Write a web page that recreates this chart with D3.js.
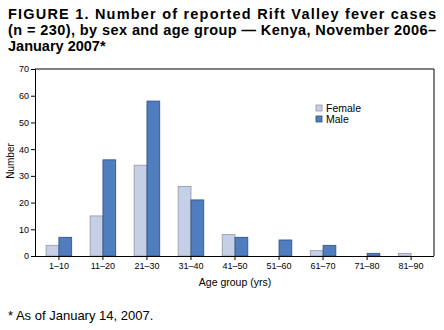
<!DOCTYPE html>
<html><head><meta charset="utf-8">
<script src="https://cdn.jsdelivr.net/npm/d3@7"></script>
<style>body{margin:0;background:#fff}svg{display:block;font-family:"Liberation Sans",Arial,Helvetica,sans-serif}</style>
</head><body>
<svg id="c" width="444" height="330"></svg>
<script>
const categories = ["1–10","11–20","21–30","31–40","41–50","51–60","61–70","71–80","81–90"];
const female = [4,15,34,26,8,0,2,0,1];
const male = [7,36,58,21,7,6,4,1,0];
const yTicks = [0,10,20,30,40,50,60,70];
const seriesNames = ["Female","Male"];
const colors = {Female:"#c5cfe6", Male:"#4f7dbd"};
const strokes = {Female:"#8f96a6", Male:"#2f5080"};

const svg = d3.select("#c");
const m = {l:35, r:434, t:69, b:256};
const x = d3.scaleBand().domain(categories).range([m.l+1, m.r]).paddingInner(0).paddingOuter(0.02);
const y = d3.scaleLinear().domain([0,70]).range([m.b, m.t]);
const bw = 12.8;

// title
const title = ["FIGURE 1. Number of reported Rift Valley fever cases",
  "(n = 230), by sex and age group — Kenya,  November 2006–",
  "January 2007*"];
const tt = svg.append("g").attr("font-weight","bold").attr("font-size",14.5).attr("fill","#000");
title.forEach((t,i)=>{
  const el = tt.append("text").attr("x",8).attr("y",19+i*16).text(t);
  if(i<2) el.attr("textLength",428).attr("lengthAdjust","spacing");
});

// frame top/right
svg.append("path").attr("d",`M${m.l},${m.t}H${m.r}V${m.b}`).attr("fill","none").attr("stroke","#000").attr("stroke-width",1);

// bars
const g = svg.append("g");
categories.forEach((c,i)=>{
  const cx = x(c)+x.bandwidth()/2;
  [["Female",female[i],cx-bw],["Male",male[i],cx]].forEach(([s,v,x0])=>{
    if(v<=0) return;
    g.append("rect").attr("x",x0).attr("y",y(v)).attr("width",bw).attr("height",m.b-y(v))
      .attr("fill",colors[s]).attr("stroke",strokes[s]).attr("stroke-width",0.8);
  });
});

// axes
const ya = svg.append("g").attr("transform",`translate(${m.l},0)`)
  .call(d3.axisLeft(y).tickValues(yTicks).tickSize(4).tickPadding(2));
ya.select(".domain").attr("stroke","#000");
ya.selectAll("text").attr("font-size",9).attr("fill","#000").attr("font-family","Liberation Sans, Arial");
const xa = svg.append("g").attr("transform",`translate(0,${m.b})`)
  .call(d3.axisBottom(x).tickSize(4).tickPadding(3).tickSizeOuter(0));
xa.select(".domain").attr("d",`M${m.l},0.5H${m.r}`).attr("stroke","#000");
xa.selectAll("text").attr("font-size",9).attr("fill","#000").attr("font-family","Liberation Sans, Arial");

// axis labels
svg.append("text").attr("transform","translate(14,161) rotate(-90)").attr("text-anchor","middle")
  .attr("font-size",10).text("Number");
svg.append("text").attr("x",235).attr("y",286).attr("text-anchor","middle").attr("font-size",10.5).text("Age group (yrs)");

// legend
seriesNames.forEach((s,i)=>{
  svg.append("rect").attr("x",316).attr("y",105+i*11).attr("width",6).attr("height",6)
    .attr("fill",colors[s]).attr("stroke",strokes[s]).attr("stroke-width",0.8);
  svg.append("text").attr("x",326).attr("y",112+i*11).attr("font-size",10.5).text(s);
});

// footnote
svg.append("text").attr("x",8).attr("y",320).attr("font-size",13).text("* As of January 14, 2007.");
</script>
</body></html>
